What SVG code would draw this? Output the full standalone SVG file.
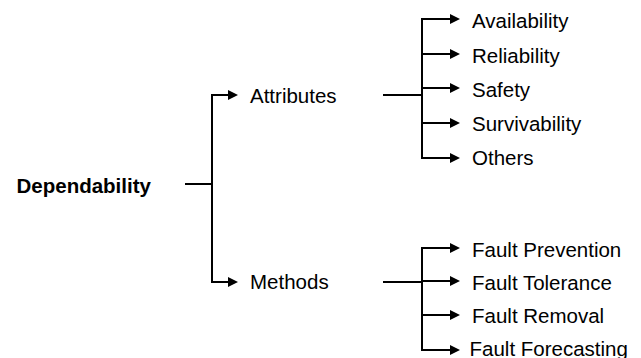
<svg xmlns="http://www.w3.org/2000/svg" width="641" height="358" viewBox="0 0 641 358">
<defs>
<marker id="ah" markerUnits="userSpaceOnUse" markerWidth="10" markerHeight="10" refX="0" refY="5" orient="auto" overflow="visible">
<path d="M0,0 L10,5 L0,10 z" fill="#000"/>
</marker>
<style>
.t{font-family:"Liberation Sans",Arial,sans-serif;font-size:20.5px;fill:#000}
.b{font-weight:bold}
.c{fill:none;stroke:#000;stroke-width:2}
.a{fill:none;stroke:#000;stroke-width:2;marker-end:url(#ah)}
</style>
</defs>
<rect width="641" height="358" fill="#fff"/>
<g id="connectors">
<path class="c" d="M185,184 H212 M212,95 V282"/>
<path class="a" d="M211,95 H228"/>
<path class="a" d="M211,282 H228"/>
<path class="c" d="M383,95 H422 M422,19 V158"/>
<path class="a" d="M421,19 H450"/>
<path class="a" d="M421,54 H450"/>
<path class="a" d="M421,88 H450"/>
<path class="a" d="M421,123 H450"/>
<path class="a" d="M421,158 H450"/>
<path class="c" d="M383,282 H422 M422,248 V350"/>
<path class="a" d="M421,248 H450"/>
<path class="a" d="M421,281 H450"/>
<path class="a" d="M421,315 H450"/>
<path class="a" d="M421,350 H450"/>
</g>
<g id="dependability"><text class="t b" x="16.5" y="193">Dependability</text></g>
<g id="attributes"><text class="t" x="250" y="102.5">Attributes</text></g>
<g id="methods"><text class="t" x="250" y="288.5">Methods</text></g>
<g id="availability"><text class="t" x="472" y="27.5">Availability</text></g>
<g id="reliability"><text class="t" x="472" y="62.5">Reliability</text></g>
<g id="safety"><text class="t" x="472" y="96.5">Safety</text></g>
<g id="survivability"><text class="t" x="472" y="130.5">Survivability</text></g>
<g id="others"><text class="t" x="472" y="165">Others</text></g>
<g id="fault-prevention"><text class="t" x="472" y="256.5">Fault Prevention</text></g>
<g id="fault-tolerance"><text class="t" x="472" y="290">Fault Tolerance</text></g>
<g id="fault-removal"><text class="t" x="472" y="322.5">Fault Removal</text></g>
<g id="fault-forecasting"><text class="t" x="469.5" y="355.5">Fault Forecasting</text></g>
</svg>
